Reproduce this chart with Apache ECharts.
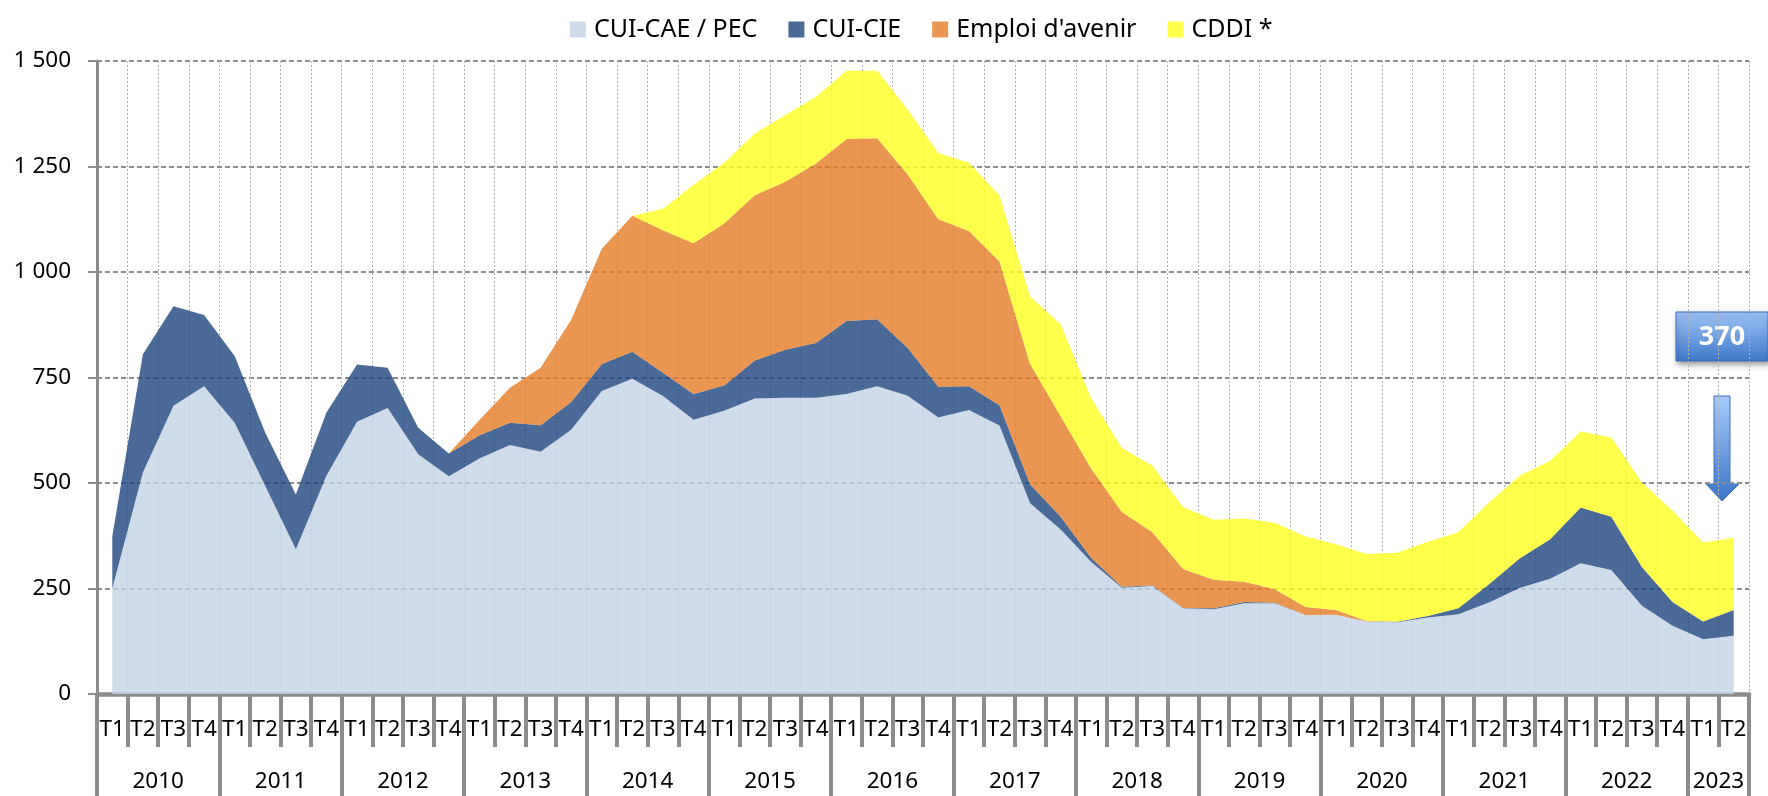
<!DOCTYPE html>
<html>
<head>
<meta charset="utf-8">
<script src="https://cdn.jsdelivr.net/npm/echarts@6/dist/echarts.min.js"></script>
<style>
  html, body { margin: 0; padding: 0; background: #fff; }
  #chart { width: 1768px; height: 796px; }
</style>
</head>
<body>
<div id="chart"></div>
<script>
// quarters per year, 2010 T1 -> 2023 T2
const years = ['2010', '2011', '2012', '2013', '2014', '2015', '2016', '2017', '2018', '2019', '2020', '2021', '2022', '2023']
const quartersPerYear = [4, 4, 4, 4, 4, 4, 4, 4, 4, 4, 4, 4, 4, 2]
const quarters = []
years.forEach((y, i) => {
  for (let q = 1; q <= quartersPerYear[i]; q++) quarters.push('T' + q)
})

const yTickLabels = ['0', '250', '500', '750', '1 000', '1 250', '1 500']

const cuiCae = [250, 525, 683, 729, 643, 493, 343, 517, 645, 678, 568, 516, 558, 590, 574, 626, 718, 747, 706, 650, 671, 700, 702, 702, 711, 729, 707, 655, 673, 636, 452, 390, 313, 252, 256, 203, 201, 215, 215, 187, 188, 172, 170, 181, 189, 217, 251, 273, 310, 294, 209, 162, 130, 138]
const cuiCie = [124, 280, 236, 169, 158, 126, 130, 150, 136, 95, 63, 54, 55, 53, 63, 66, 64, 64, 55, 61, 60, 90, 114, 130, 173, 159, 113, 73, 56, 48, 45, 30, 9, 2, 1, 1, 2, 3, 1, 0, 0, 0, 1, 4, 14, 43, 70, 94, 132, 126, 92, 56, 42, 61]
const emploiAvenir = [0, 0, 0, 0, 0, 0, 0, 0, 0, 0, 0, 0, 36, 83, 136, 195, 273, 322, 338, 357, 384, 392, 398, 425, 431, 429, 411, 397, 368, 341, 285, 238, 212, 177, 126, 92, 68, 48, 32, 19, 11, 1, 0, 0, 0, 0, 0, 0, 0, 0, 0, 0, 0, 0]
const cddi = [0, 0, 0, 0, 0, 0, 0, 0, 0, 0, 0, 0, 0, 0, 0, 0, 0, 0, 51, 139, 144, 146, 158, 158, 162, 160, 154, 157, 162, 156, 160, 218, 166, 152, 158, 147, 142, 150, 158, 167, 156, 159, 164, 176, 180, 194, 196, 186, 180, 188, 200, 216, 187, 171]
const lastTotal = '370'

const names = ['CUI-CAE / PEC', 'CUI-CIE', "Emploi d'avenir", 'CDDI *']
const seriesData = [cuiCae, cuiCie, emploiAvenir, cddi]
const colors = ['#cfdcec', '#4a6b97', '#eb9650', '#ffff4c']
// fills drawn at 0.8 opacity so the grid shows through like the original
const fills = ['#c3d3e7', '#1d467d', '#e67c24', '#ffff1f']

// year label sits in the middle of its quarters
const yearCenters = {}
let start = 0
years.forEach((y, i) => {
  yearCenters[start + quartersPerYear[i] / 2] = y
  start += quartersPerYear[i]
})

const FONT = '"Noto Sans", sans-serif'
const gray = '#8c8c8c'

const chart = echarts.init(document.getElementById('chart'))

chart.setOption({
  animation: false,
  textStyle: { fontFamily: FONT },
  legend: {
    left: 565,
    top: 12,
    icon: 'rect',
    itemWidth: 16,
    itemHeight: 16,
    itemGap: 31,
    textStyle: { fontSize: 25, color: '#000', fontFamily: FONT, padding: [0, 0, 0, 3] },
    data: names.map((n, i) => ({ name: n, itemStyle: { color: colors[i] } })),
  },
  grid: { left: 97, right: 19, top: 61, bottom: 102, containLabel: false, outerBoundsMode: 'none' },
  xAxis: [
    {
      type: 'category',
      data: quarters,
      position: 'bottom',
      boundaryGap: true,
      axisLine: { lineStyle: { color: gray, width: 4.5 } },
      axisTick: { show: true, interval: 0, length: 53, lineStyle: { color: gray, width: 4 } },
      axisLabel: { interval: 0, fontSize: 22.5, color: '#000', margin: 24, fontFamily: FONT },
      splitLine: { show: true, interval: 0, lineStyle: { color: '#b0b0b0', width: 1, type: [2, 2] } },
    },
    {
      type: 'category',
      data: quarters,
      position: 'bottom',
      boundaryGap: true,
      axisLine: { show: false },
      axisTick: { show: true, interval: 3, length: 103, lineStyle: { color: gray, width: 4 } },
      axisLabel: { show: false },
      splitLine: { show: false },
    },
    {
      type: 'value',
      position: 'bottom',
      min: 0,
      max: quarters.length,
      interval: 1,
      axisLine: { show: false },
      axisTick: { show: false },
      splitLine: { show: false },
      axisLabel: {
        fontSize: 22.5,
        color: '#000',
        margin: 76,
        fontFamily: FONT,
        formatter: (v) => yearCenters[v] || '',
      },
    },
  ],
  yAxis: {
    type: 'value',
    min: 0,
    max: 1500,
    interval: 250,
    axisLine: { show: true, lineStyle: { color: gray, width: 3 } },
    axisTick: { show: true, length: 9, lineStyle: { color: gray, width: 2 } },
    axisLabel: {
      fontSize: 22.5,
      color: '#000',
      margin: 26,
      fontFamily: FONT,
      formatter: (v, i) => yTickLabels[i],
    },
    splitLine: { lineStyle: { color: gray, width: 2, type: [5, 3] } },
  },
  series: seriesData.map((d, i) => ({
    name: names[i],
    type: 'line',
    stack: 'total',
    data: d,
    symbol: 'none',
    color: colors[i],
    lineStyle: { width: 0, opacity: 0 },
    areaStyle: { color: fills[i], opacity: 0.8 },
  })),
  graphic: [
    {
      type: 'polygon',
      shape: { points: [[1714, 396], [1730, 396], [1730, 484], [1739, 484], [1722, 501], [1706, 484], [1714, 484]] },
      style: {
        fill: new echarts.graphic.LinearGradient(0, 0, 0, 1, [
          { offset: 0, color: '#a6cafa' },
          { offset: 1, color: '#3c76c8' },
        ]),
        stroke: '#3d72c2',
        lineWidth: 1,
      },
    },
    {
      type: 'rect',
      shape: { x: 1676, y: 312, width: 92, height: 49 },
      style: {
        fill: new echarts.graphic.LinearGradient(0, 0, 0, 1, [
          { offset: 0, color: '#a0c5f8' },
          { offset: 1, color: '#3f78c9' },
        ]),
        stroke: '#3a6fbf',
        lineWidth: 1,
        shadowBlur: 6,
        shadowOffsetX: 2,
        shadowOffsetY: 3,
        shadowColor: 'rgba(0,0,0,0.4)',
      },
    },
    {
      type: 'text',
      style: {
        text: lastTotal,
        x: 1722,
        y: 337,
        align: 'center',
        verticalAlign: 'middle',
        fill: '#fff',
        fontSize: 27,
        fontWeight: 'bold',
        fontFamily: FONT,
      },
    },
  ],
})

window.addEventListener('resize', () => chart.resize())
</script>
</body>
</html>
